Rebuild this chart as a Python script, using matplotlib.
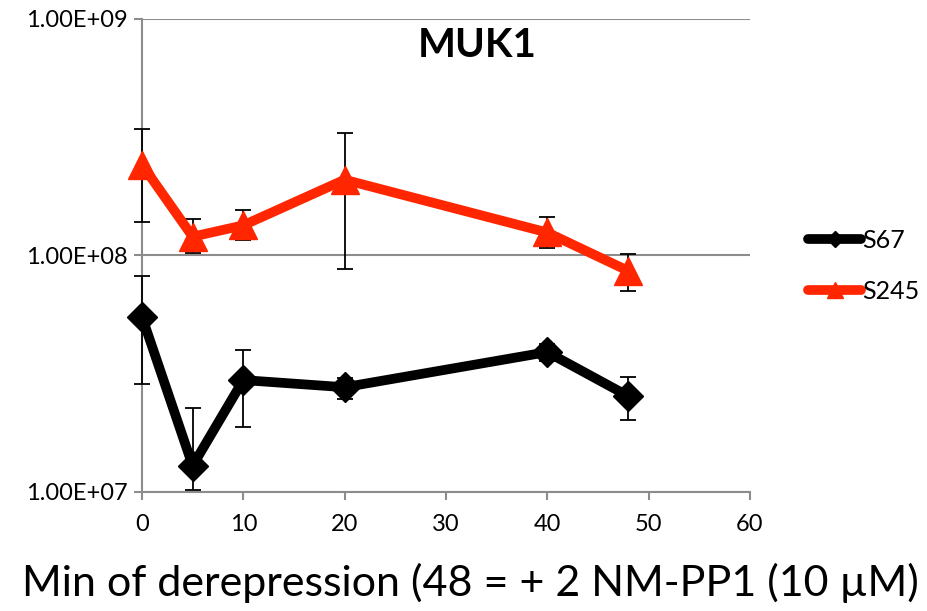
import matplotlib
matplotlib.use("Agg")
import matplotlib.pyplot as plt

plt.rcParams['font.family'] = ['Lato', 'DejaVu Sans']

# Data
minutes = [0, 5, 10, 20, 40, 48]

s67 = [5.5e7, 1.29e7, 2.97e7, 2.77e7, 3.9e7, 2.54e7]
s67_hi = [8.2e7, 2.26e7, 3.98e7, 3.02e7, 4.2e7, 3.05e7]
s67_lo = [2.86e7, 1.02e7, 1.88e7, 2.47e7, 3.57e7, 2.01e7]

s245 = [2.42e8, 1.2e8, 1.34e8, 2.09e8, 1.25e8, 8.6e7]
s245_hi = [3.43e8, 1.42e8, 1.55e8, 3.3e8, 1.46e8, 1.01e8]
s245_lo = [1.39e8, 1.02e8, 1.16e8, 8.8e7, 1.07e8, 7.05e7]

yticks = [1e7, 1e8, 1e9]
ytick_labels = ["1.00E+07", "1.00E+08", "1.00E+09"]
xticks = [0, 10, 20, 30, 40, 50, 60]

fig = plt.figure(figsize=(9.28, 6.11), dpi=100)
ax = fig.add_axes([0.153, 0.195, 0.655, 0.774])

grey = "#8c8c8c"

def draw(vals, lo, hi, color, marker, ms, label):
    err = [[v - l for v, l in zip(vals, lo)], [h - v for v, h in zip(vals, hi)]]
    eb = ax.errorbar(minutes, vals, yerr=err, fmt='none', ecolor='black',
                     elinewidth=1.3, capsize=6, capthick=1.3, zorder=3)
    for part in eb.lines[1] + eb.lines[2]:
        part.set_clip_on(False)
    ax.plot(minutes, vals, color=color, lw=7, marker=marker, ms=ms,
            solid_capstyle='round', solid_joinstyle='round', zorder=4,
            label=label, clip_on=False)

draw(s67, s67_lo, s67_hi, 'black', 'D', 15, 'S67')
draw(s245, s245_lo, s245_hi, '#ff2600', '^', 20, 'S245')

ax.set_yscale('log')
ax.set_ylim(1e7, 1e9)
ax.set_xlim(0, 60)
ax.set_yticks(yticks)
ax.set_yticklabels(ytick_labels)
ax.minorticks_off()
ax.set_xticks(xticks)

for s in ['top', 'right']:
    ax.spines[s].set_visible(False)
for s in ['left', 'bottom']:
    ax.spines[s].set_color(grey)
    ax.spines[s].set_linewidth(1.5)
ax.tick_params(axis='both', colors=grey, labelcolor='black', labelsize=17,
               width=1.5, length=6)
ax.tick_params(axis='x', pad=10)
ax.tick_params(axis='y', pad=4)
ax.yaxis.grid(True, color=grey, lw=1.5)
ax.set_axisbelow(True)

ax.text(0.551, 0.92, "MUK1", transform=ax.transAxes, ha='center', va='baseline',
        fontsize=29, fontweight='bold')

fig.text(0.507, 0.025, "Min of derepression (48 = + 2 NM-PP1 (10 µM)",
         ha='center', va='baseline', fontsize=31)

handles, labels = ax.get_legend_handles_labels()
leg = fig.legend(handles, labels, loc='center left', bbox_to_anchor=(0.871, 0.565),
                 frameon=False, fontsize=18, handlelength=2.1, handletextpad=0.05,
                 labelspacing=1.1, markerscale=0.55, borderpad=0, borderaxespad=0)

fig.savefig("out.png", dpi=100)
